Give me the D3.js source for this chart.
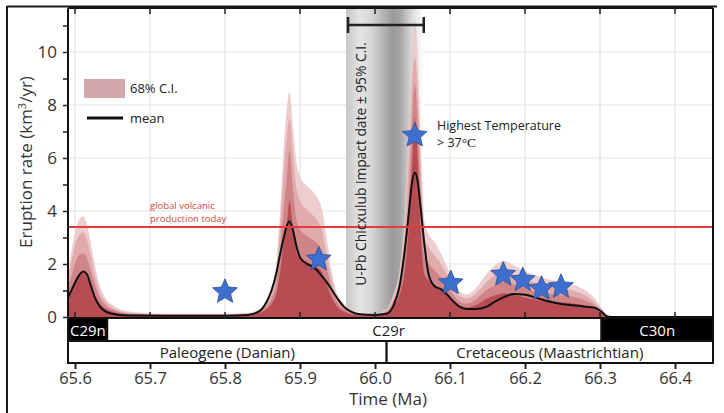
<!DOCTYPE html>
<html>
<head>
<meta charset="utf-8">
<script src="https://cdn.jsdelivr.net/npm/d3@7"></script>
<style>
  html, body { margin: 0; padding: 0; background: #fff; }
  svg { display: block; font-family: "Open Sans", sans-serif; }
</style>
</head>
<body>
<svg id="chart" width="724" height="413"></svg>
<script>
// ── Data ──────────────────────────────────────────────────────────────────────
// Time grid in Ma, shared by the mean and the nested C.I. envelopes.
var TIME = [
  65.591, 65.596, 65.601, 65.606, 65.611, 65.616, 65.621, 65.627, 65.633, 65.640,
  65.650, 65.660, 65.680, 65.720, 65.760, 65.800, 65.830, 65.845, 65.855, 65.862,
  65.868, 65.873, 65.878, 65.882, 65.886, 65.890, 65.895, 65.900, 65.907, 65.915,
  65.922, 65.929, 65.936, 65.943, 65.950, 65.958, 65.968, 65.980, 66.000, 66.015,
  66.025, 66.033, 66.040, 66.045, 66.049, 66.053, 66.057, 66.061, 66.066, 66.072,
  66.080, 66.088, 66.096, 66.104, 66.112, 66.122, 66.135, 66.148, 66.160, 66.172,
  66.185, 66.198, 66.212, 66.227, 66.243, 66.260, 66.278, 66.293, 66.302, 66.310,
  66.320, 66.350, 66.450
];

// Mean eruption rate, km3/yr
var MEAN = [
  0.75, 1.05, 1.35, 1.6, 1.72, 1.6, 1.2, 0.7, 0.4, 0.22,
  0.12, 0.08, 0.06, 0.05, 0.05, 0.05, 0.08, 0.2, 0.55, 1.0,
  1.6, 2.3, 2.95, 3.4, 3.6, 3.35, 2.7, 2.25, 2.05, 1.92,
  1.78, 1.55, 1.3, 1.0, 0.7, 0.4, 0.2, 0.1, 0.08, 0.12,
  0.45, 1.2, 2.6, 3.9, 5.0, 5.45, 5.1, 4.1, 2.7, 1.55,
  1.15, 1.05, 0.85, 0.6, 0.4, 0.3, 0.3, 0.38, 0.58, 0.75,
  0.87, 0.85, 0.75, 0.62, 0.52, 0.45, 0.4, 0.35, 0.2, 0.02,
  0, 0, 0
];

// Upper edges of the stacked C.I. shading, outermost (lightest) first
var CI_OUTER = [
  1.8, 2.6, 3.3, 3.7, 3.8, 3.5, 2.8, 1.9, 1.2, 0.75,
  0.45, 0.3, 0.18, 0.12, 0.12, 0.12, 0.15, 0.3, 0.6, 1.1,
  1.9, 3.8, 6.3, 7.8, 8.5, 7.4, 5.9, 5.3, 5.0, 4.8,
  4.55, 4.1, 2.9, 1.6, 0.85, 0.5, 0.25, 0.12, 0.12, 0.3,
  0.9, 1.8, 4.0, 7.0, 10.0, 11.2, 9.8, 6.5, 3.6, 3.1,
  2.8, 2.4, 1.9, 1.4, 1.0, 0.85, 1.1, 1.6, 1.95, 2.12,
  1.95, 1.75, 1.6, 1.45, 1.35, 1.25, 1.05, 0.7, 0.35, 0.05,
  0, 0, 0
];
var CI_MID1 = [
  1.5, 2.2, 2.8, 3.1, 3.2, 2.9, 2.3, 1.5, 0.95, 0.6,
  0.35, 0.22, 0.14, 0.1, 0.1, 0.1, 0.12, 0.25, 0.5, 0.9,
  1.6, 3.2, 5.3, 6.7, 7.5, 6.4, 4.9, 4.4, 4.1, 3.9,
  3.7, 3.3, 2.3, 1.3, 0.7, 0.42, 0.2, 0.1, 0.1, 0.25,
  0.75, 1.5, 3.4, 6.0, 8.6, 9.8, 8.5, 5.6, 3.0, 2.6,
  2.3, 2.0, 1.6, 1.15, 0.8, 0.7, 0.9, 1.3, 1.6, 1.75,
  1.6, 1.45, 1.3, 1.2, 1.1, 1.02, 0.85, 0.55, 0.28, 0.04,
  0, 0, 0
];
var CI_MID2 = [
  1.15, 1.6, 2.1, 2.35, 2.4, 2.2, 1.75, 1.2, 0.75, 0.46,
  0.28, 0.18, 0.11, 0.08, 0.08, 0.08, 0.1, 0.2, 0.4, 0.7,
  1.2, 2.4, 4.0, 5.1, 6.3, 5.0, 3.7, 3.3, 3.1, 2.95,
  2.8, 2.5, 1.8, 1.0, 0.55, 0.32, 0.15, 0.08, 0.08, 0.2,
  0.6, 1.2, 2.6, 4.6, 7.0, 8.8, 7.2, 4.4, 2.3, 2.0,
  1.75, 1.5, 1.2, 0.85, 0.6, 0.5, 0.68, 1.0, 1.2, 1.32,
  1.22, 1.1, 0.98, 0.9, 0.84, 0.78, 0.65, 0.43, 0.22, 0.03,
  0, 0, 0
];
var CI_INNER = [
  0.8, 1.1, 1.4, 1.6, 1.65, 1.5, 1.2, 0.8, 0.5, 0.32,
  0.2, 0.12, 0.08, 0.06, 0.06, 0.06, 0.07, 0.14, 0.28, 0.5,
  0.85, 1.6, 2.7, 3.4, 4.4, 3.5, 2.5, 2.2, 2.1, 2.0,
  1.9, 1.7, 1.2, 0.7, 0.38, 0.22, 0.1, 0.06, 0.06, 0.14,
  0.42, 0.85, 1.8, 3.4, 5.5, 7.5, 6.0, 3.2, 1.6, 1.35,
  1.2, 1.0, 0.8, 0.58, 0.4, 0.35, 0.45, 0.68, 0.82, 0.9,
  0.83, 0.75, 0.66, 0.6, 0.57, 0.53, 0.44, 0.29, 0.15, 0.02,
  0, 0, 0
];

// Temperature proxies (stars)
var STAR_T = [65.800, 65.925, 66.053, 66.101, 66.171, 66.197, 66.222, 66.248];
var STAR_V = [0.95, 2.18, 6.85, 1.28, 1.60, 1.40, 1.07, 1.14];

var TODAY_RATE = 3.4;              // global volcanic production today
var IMPACT_CI  = [65.964, 66.065]; // U-Pb Chicxulub impact date ± 95% C.I.

var CHRON_NAMES = ["C29n", "C29r", "C30n"];
var CHRON_FROM  = [65.5907, 65.643, 66.302];
var CHRON_TO    = [65.643, 66.302, 66.4507];

var STAGE_NAMES = ["Paleogene (Danian)", "Cretaceous (Maastrichtian)"];
var STAGE_FROM  = [65.5907, 66.0155];
var STAGE_TO    = [66.0155, 66.4507];

var X_TICKS  = [65.6, 65.7, 65.8, 65.9, 66.0, 66.1, 66.2, 66.3, 66.4];
var Y_TICKS  = [0, 1, 2, 3, 4, 5, 6, 7, 8, 9, 10, 11];
var Y_LABELED = [0, 2, 4, 6, 8, 10];

(function () {
  // ── Layout ──────────────────────────────────────────────────────────────────
  var L = 68, R = 713, TOP = 8;
  var CHRON_Y = 318, STAGE_Y = 341, BOTTOM = 363;

  var x = d3.scaleLinear().domain([65.6, 66.4]).range([75, 675]);
  var y = d3.scaleLinear().domain([0, 10]).range([317, 52]);

  var svg = d3.select("#chart");
  var defs = svg.append("defs");

  defs.append("clipPath").attr("id", "plot-clip")
    .append("rect").attr("x", L).attr("y", TOP).attr("width", R - L).attr("height", CHRON_Y - TOP);

  // gray impact band gradient
  var grad = defs.append("linearGradient").attr("id", "impact-grad")
    .attr("x1", "0").attr("x2", "1").attr("y1", "0").attr("y2", "0");
  [[0, "#c8c8c8"], [0.06, "#d0d0d0"], [0.18, "#e4e4e4"], [0.32, "#d8d8d8"],
   [0.48, "#b4b4b4"], [0.6, "#9a9a9a"], [0.7, "#a6a6a6"], [0.84, "#d8d8d8"], [1, "#ffffff"]]
    .forEach(function (s) {
      grad.append("stop").attr("offset", s[0]).attr("stop-color", s[1]);
    });

  // ── Grid ────────────────────────────────────────────────────────────────────
  var grid = svg.append("g").attr("stroke", "#e3e3e3").attr("stroke-width", 1.2);
  grid.selectAll("line.v").data(X_TICKS).join("line")
    .attr("x1", function (d) { return x(d); }).attr("x2", function (d) { return x(d); })
    .attr("y1", TOP).attr("y2", CHRON_Y);
  grid.selectAll("line.h").data(Y_LABELED.slice(1)).join("line")
    .attr("x1", L).attr("x2", R)
    .attr("y1", function (d) { return y(d); }).attr("y2", function (d) { return y(d); });

  // ── Impact date band ────────────────────────────────────────────────────────
  svg.append("rect")
    .attr("x", x(IMPACT_CI[0]) - 2).attr("y", TOP)
    .attr("width", x(IMPACT_CI[1]) - x(IMPACT_CI[0]) + 2)
    .attr("height", CHRON_Y - TOP)
    .attr("fill", "url(#impact-grad)");

  // ── C.I. shading ────────────────────────────────────────────────────────────
  var plot = svg.append("g").attr("clip-path", "url(#plot-clip)");
  var layers = [
    { v: CI_OUTER, c: "#eccaca" },
    { v: CI_MID1,  c: "#dfa8a9" },
    { v: CI_MID2,  c: "#cd8083" },
    { v: CI_INNER, c: "#b5494e" }
  ];
  layers.forEach(function (lyr) {
    var area = d3.area()
      .x(function (d, i) { return x(TIME[i]); })
      .y0(CHRON_Y)
      .y1(function (d) { return y(d); })
      .curve(d3.curveMonotoneX);
    plot.append("path").datum(lyr.v)
      .attr("d", area)
      .attr("fill", lyr.c)
      .attr("fill-opacity", 0.92);
  });

  // today's production line
  svg.append("line")
    .attr("x1", L).attr("x2", R)
    .attr("y1", y(TODAY_RATE)).attr("y2", y(TODAY_RATE))
    .attr("stroke", "#e23b3b").attr("stroke-width", 2);

  svg.append("text").attr("x", 150).attr("y", 209)
    .attr("font-size", 9.5).attr("fill", "#d94545").text("global volcanic");
  svg.append("text").attr("x", 150).attr("y", 222)
    .attr("font-size", 9.5).attr("fill", "#d94545").text("production today");

  // mean
  var line = d3.line()
    .x(function (d, i) { return x(TIME[i]); })
    .y(function (d) { return y(d); })
    .curve(d3.curveMonotoneX);
  plot.append("path").datum(MEAN)
    .attr("d", line)
    .attr("fill", "none")
    .attr("stroke", "#111")
    .attr("stroke-width", 2);

  // ── Stars ───────────────────────────────────────────────────────────────────
  var star = {
    draw: function (ctx, size) {
      var ro = Math.sqrt(size) / 2, ri = ro * 0.46;
      for (var k = 0; k < 10; k++) {
        var r = k % 2 ? ri : ro, a = -Math.PI / 2 + k * Math.PI / 5;
        if (k === 0) ctx.moveTo(r * Math.cos(a), r * Math.sin(a));
        else ctx.lineTo(r * Math.cos(a), r * Math.sin(a));
      }
      ctx.closePath();
    }
  };
  svg.append("g").selectAll("path").data(STAR_T).join("path")
    .attr("transform", function (d, i) {
      return "translate(" + x(d) + "," + y(STAR_V[i]) + ")";
    })
    .attr("d", d3.symbol(star, 26 * 26))
    .attr("fill", "#3d6fcf")
    .attr("stroke", "#2c4f98")
    .attr("stroke-width", 0.8);

  // ── Bracket and vertical caption ────────────────────────────────────────────
  var bx0 = x(IMPACT_CI[0]), bx1 = x(IMPACT_CI[1]);
  var br = svg.append("g").attr("stroke", "#222").attr("stroke-width", 2.5);
  br.append("line").attr("x1", bx0).attr("x2", bx1).attr("y1", 25).attr("y2", 25);
  br.append("line").attr("x1", bx0).attr("x2", bx0).attr("y1", 17).attr("y2", 33);
  br.append("line").attr("x1", bx1).attr("x2", bx1).attr("y1", 17).attr("y2", 33);

  svg.append("text")
    .attr("transform", "translate(366,164) rotate(-90)")
    .attr("text-anchor", "middle")
    .attr("font-size", 13.8).attr("fill", "#222")
    .text("U-Pb Chicxulub impact date \u00b1 95% C.I.");

  // temperature note
  svg.append("text").attr("x", 437).attr("y", 130)
    .attr("font-size", 12.5).attr("fill", "#222").text("Highest Temperature");
  var t2 = svg.append("text").attr("x", 437).attr("y", 147)
    .attr("font-size", 12.5).attr("fill", "#222");
  t2.append("tspan").text("> 37");
  t2.append("tspan").attr("font-family", "'Liberation Serif', serif").attr("font-size", 13.5).text("\u00b0C");

  // ── Legend ──────────────────────────────────────────────────────────────────
  svg.append("rect").attr("x", 84).attr("y", 79).attr("width", 41).attr("height", 19)
    .attr("fill", "#d4a8ab");
  svg.append("text").attr("x", 130).attr("y", 93)
    .attr("font-size", 13).attr("fill", "#222").text("68% C.I.");
  svg.append("line").attr("x1", 87).attr("x2", 123).attr("y1", 118).attr("y2", 118)
    .attr("stroke", "#111").attr("stroke-width", 3);
  svg.append("text").attr("x", 130).attr("y", 123)
    .attr("font-size", 13).attr("fill", "#222").text("mean");

  // ── Chron and stage bands ───────────────────────────────────────────────────
  var chrons = svg.append("g");
  CHRON_NAMES.forEach(function (name, i) {
    var dark = name !== "C29r";
    var x0 = Math.max(L, x(CHRON_FROM[i])), x1 = Math.min(R, x(CHRON_TO[i]));
    chrons.append("rect")
      .attr("x", x0).attr("y", CHRON_Y).attr("width", x1 - x0).attr("height", STAGE_Y - CHRON_Y)
      .attr("fill", dark ? "#000" : "#fff")
      .attr("stroke", "#111").attr("stroke-width", 2);
    var lx, anchor = "middle";
    if (i === 0) { lx = x0 + 2; anchor = "start"; }
    else if (i === 1) { lx = x(STAGE_FROM[1]) + 2; }
    else { lx = (x0 + x1) / 2; }
    chrons.append("text")
      .attr("x", lx).attr("y", STAGE_Y - 5)
      .attr("text-anchor", anchor)
      .attr("font-size", 15).attr("fill", dark ? "#fff" : "#222")
      .text(name);
  });

  var stages = svg.append("g");
  STAGE_NAMES.forEach(function (name, i) {
    var x0 = Math.max(L, x(STAGE_FROM[i])), x1 = Math.min(R, x(STAGE_TO[i]));
    stages.append("rect")
      .attr("x", x0).attr("y", STAGE_Y).attr("width", x1 - x0).attr("height", BOTTOM - STAGE_Y)
      .attr("fill", "#fff").attr("stroke", "#111").attr("stroke-width", 2);
    stages.append("text")
      .attr("x", (x0 + x1) / 2).attr("y", BOTTOM - 5)
      .attr("text-anchor", "middle")
      .attr("font-size", 15).attr("fill", "#222")
      .text(name);
  });

  // ── Axes ────────────────────────────────────────────────────────────────────
  var frame = svg.append("g").attr("stroke", "#111").attr("stroke-width", 2).attr("fill", "none");
  frame.append("line").attr("x1", L).attr("x2", L).attr("y1", TOP).attr("y2", BOTTOM);
  frame.append("line").attr("x1", R).attr("x2", R).attr("y1", TOP).attr("y2", BOTTOM);
  frame.append("line").attr("x1", L).attr("x2", R).attr("y1", TOP).attr("y2", TOP);

  // inward ticks on top edge and zero line
  var inner = svg.append("g").attr("stroke", "#222").attr("stroke-width", 1.5);
  X_TICKS.forEach(function (t) {
    inner.append("line").attr("x1", x(t)).attr("x2", x(t)).attr("y1", TOP).attr("y2", TOP + 6);
    inner.append("line").attr("x1", x(t)).attr("x2", x(t)).attr("y1", CHRON_Y - 6).attr("y2", CHRON_Y);
  });

  var xAxis = svg.append("g").attr("transform", "translate(0," + BOTTOM + ")")
    .call(d3.axisBottom(x).tickValues(X_TICKS).tickSize(6).tickPadding(3).tickFormat(d3.format(".1f")));
  xAxis.select(".domain").remove();
  xAxis.selectAll(".tick line").attr("stroke", "#222").attr("stroke-width", 2);
  xAxis.selectAll(".tick text").attr("font-size", 16.5).attr("fill", "#333")
    .attr("font-family", "'Open Sans', sans-serif");

  var yAxis = svg.append("g").attr("transform", "translate(" + L + ",0)")
    .call(d3.axisLeft(y).tickValues(Y_TICKS).tickSize(5).tickPadding(6)
      .tickFormat(function (d) { return Y_LABELED.indexOf(d) >= 0 ? d : ""; }));
  yAxis.select(".domain").remove();
  yAxis.selectAll(".tick line").attr("stroke", "#222").attr("stroke-width", 1.5);
  yAxis.selectAll(".tick text").attr("font-size", 17).attr("fill", "#333")
    .attr("font-family", "'Open Sans', sans-serif");

  svg.append("text").attr("x", 388).attr("y", 405)
    .attr("text-anchor", "middle").attr("font-size", 17).attr("fill", "#333")
    .text("Time (Ma)");

  var yl = svg.append("text")
    .attr("transform", "translate(32,162) rotate(-90)")
    .attr("text-anchor", "middle").attr("font-size", 17).attr("fill", "#333");
  yl.append("tspan").text("Eruption rate (km");
  yl.append("tspan").attr("font-size", 11).attr("dy", -6).text("3");
  yl.append("tspan").attr("dy", 6).text("/yr)");

  // screenshot frame (left and top edges)
  var outer = svg.append("g").attr("stroke", "#1a1a1a").attr("stroke-width", 2);
  outer.append("line").attr("x1", 7).attr("x2", 7).attr("y1", 6).attr("y2", 413);
  outer.append("line").attr("x1", 7).attr("x2", 717).attr("y1", 6.5).attr("y2", 6.5);
})();
</script>
</body>
</html>
